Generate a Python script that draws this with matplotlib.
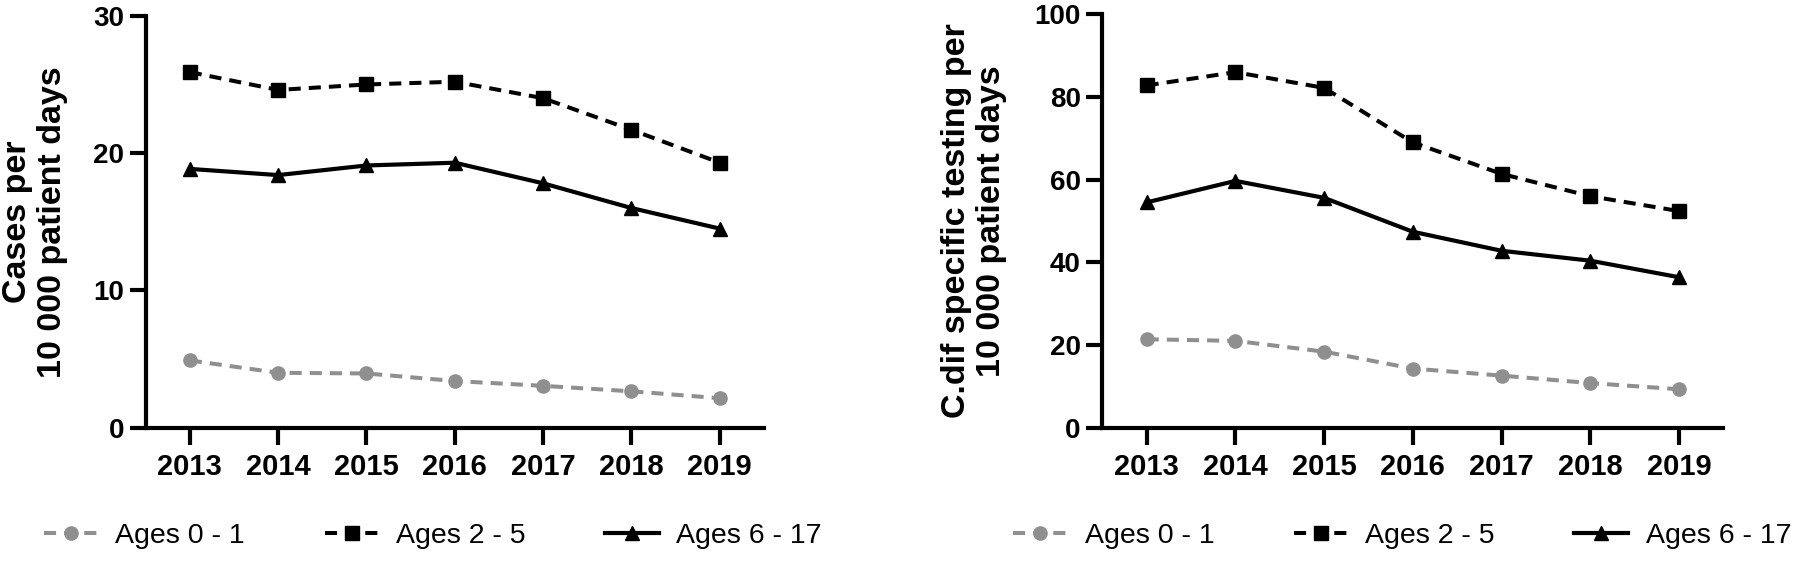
import numpy as np
import matplotlib
matplotlib.use("Agg")
import matplotlib.pyplot as plt

plt.rcParams['font.family'] = ['Liberation Sans', 'DejaVu Sans']

years = ['2013', '2014', '2015', '2016', '2017', '2018', '2019']
series_names = ['Ages 0 - 1', 'Ages 2 - 5', 'Ages 6 - 17']

# cases per 10 000 patient days
cases_0_1 = [4.9, 4.0, 3.95, 3.4, 3.05, 2.65, 2.15]
cases_2_5 = [25.9, 24.6, 25.0, 25.2, 24.0, 21.7, 19.3]
cases_6_17 = [18.85, 18.4, 19.1, 19.3, 17.8, 16.0, 14.5]

# C.dif specific testing per 10 000 patient days
tests_0_1 = [21.4, 21.0, 18.4, 14.3, 12.6, 10.8, 9.3]
tests_2_5 = [82.8, 86.0, 82.2, 69.0, 61.4, 56.0, 52.4]
tests_6_17 = [54.5, 59.7, 55.6, 47.4, 42.8, 40.4, 36.4]

gray = '#8f8f8f'
styles = [
    dict(color=gray, ls=(0, (3, 2)), marker='o', ms=9.5, lw=2.9),
    dict(color='black', ls=(0, (3, 2)), marker='s', ms=9.5, lw=2.9),
    dict(color='black', ls='-', marker='^', ms=10.5, lw=3.0),
]


def draw_panel(ax, data, ymax, ystep, ylabel, label_x):
    x = np.arange(len(years))
    handles = []
    for vals, name, st in zip(data, series_names, styles):
        h, = ax.plot(x, vals, label=name, **st)
        handles.append(h)
    ax.set_xlim(-0.5, len(years) - 0.5)
    ax.set_ylim(0, ymax)
    ax.set_yticks(np.arange(0, ymax + 1, ystep))
    ax.set_xticks(x)
    ax.set_xticklabels(years)
    for s in ['top', 'right']:
        ax.spines[s].set_visible(False)
    for s in ['left', 'bottom']:
        ax.spines[s].set_linewidth(3.0)
        ax.spines[s].set_capstyle('projecting')
    ax.tick_params(axis='y', direction='out', length=11.5, width=3.0,
                   pad=4, labelsize=20)
    ax.tick_params(axis='x', direction='out', length=12, width=3.0,
                   pad=6, labelsize=21)
    for lab in ax.get_xticklabels() + ax.get_yticklabels():
        lab.set_fontweight('bold')
    ax.set_ylabel(ylabel, fontsize=24.5, fontweight='bold', linespacing=1.2)
    # x of the label's right edge, in axes units
    ax.yaxis.set_label_coords(label_x, 0.5)
    return handles


fig = plt.figure(figsize=(18, 5.65), dpi=100)
ax1 = fig.add_axes([0.0809, 0.243, 0.3435, 0.729])
ax2 = fig.add_axes([0.6124, 0.243, 0.345, 0.7317])

h1 = draw_panel(ax1, [cases_0_1, cases_2_5, cases_6_17], 30, 10,
                'Cases per\n10 000 patient days', -0.125)
h2 = draw_panel(ax2, [tests_0_1, tests_2_5, tests_6_17], 100, 20,
                'C.dif specific testing per\n10 000 patient days', -0.153)

for handles, cx in [(h1, 0.2405), (h2, 0.779)]:
    fig.legend(handles=handles, loc='center', bbox_to_anchor=(cx, 0.051),
               ncol=3, frameon=False, fontsize=20.5, handlelength=1.9,
               handletextpad=0.6, columnspacing=2.8)

fig.savefig('out.png', dpi=100)
